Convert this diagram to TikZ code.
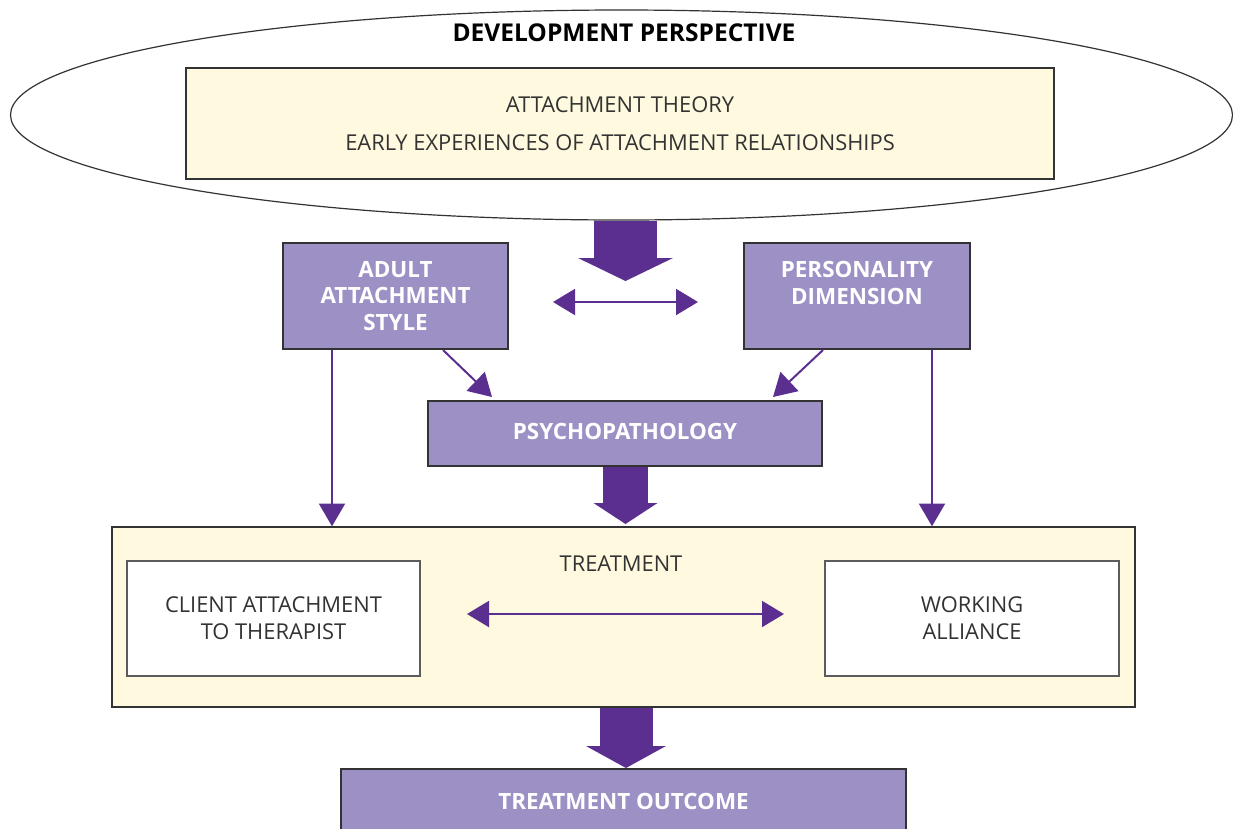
\documentclass[tikz,border=0pt]{standalone}
\usepackage{fontspec}
\setmainfont{Open Sans}
\usetikzlibrary{arrows.meta,shapes.geometric}
\definecolor{lav}{HTML}{9D90C5}
\definecolor{arrc}{HTML}{5B2F8F}
\definecolor{cream}{HTML}{FFFADF}
\definecolor{bord}{HTML}{333333}
\tikzset{
  purplebox/.style={draw=bord,line width=1.5pt,fill=lav,text=white,inner sep=0pt,align=center,
     font=\fontsize{16.8pt}{20pt}\selectfont\bfseries},
  creambox/.style={draw=bord,line width=1.1pt,fill=cream,inner sep=0pt,align=center},
  whitebox/.style={draw=bord!80,line width=0.8pt,fill=white,inner sep=0pt,align=center,text=bord,
     font=\fontsize{16.4pt}{20pt}\selectfont},
  thinarrow/.style={draw=arrc,line width=1.5pt,-{Triangle[length=17pt,width=19.5pt]}},
  thindouble/.style={draw=arrc,line width=1.5pt,{Triangle[length=16.5pt,width=19.5pt]}-{Triangle[length=16.5pt,width=19.5pt]}},
  fatarrow/.style={draw=arrc,line cap=butt}
}
\begin{document}
\begin{tikzpicture}[x=0.75pt,y=-0.75pt]
\clip (0,0) rectangle (1233,829);
\fill[white] (0,0) rectangle (1233,829);
% ellipse
\node[ellipse,draw=bord,line width=0.9pt,minimum width=916.5pt,minimum height=157.5pt,inner sep=0pt] (dev) at (621.5,115) {};
\node[font=\fontsize{18.4pt}{20pt}\selectfont\bfseries,text=black] (devlabel) at (624,33) {DEVELOPMENT PERSPECTIVE};
\node[creambox,minimum width=651pt,minimum height=83.25pt,text=bord,
  font=\fontsize{16.4pt}{28.5pt}\selectfont] (att) at (620,123.5)
  {ATTACHMENT THEORY\\EARLY EXPERIENCES OF ATTACHMENT RELATIONSHIPS};
% second row
\node[purplebox,minimum width=168.75pt,minimum height=79.5pt] (adult) at (395.5,296) {ADULT\\ATTACHMENT\\STYLE};
\node[purplebox,minimum width=169.5pt,minimum height=79.5pt] (pers) at (857,296) {PERSONALITY\\DIMENSION\\\phantom{STYLE}};
\node[purplebox,minimum width=295.5pt,minimum height=48.75pt,text depth=3pt] (psych) at (625,433) {PSYCHOPATHOLOGY};
% treatment
\node[creambox,minimum width=767.25pt,minimum height=135pt] (treat) at (623.5,617) {};
\node[text=bord,font=\fontsize{16.4pt}{18pt}\selectfont] (treatlabel) at (621,564) {TREATMENT};
\node[whitebox,minimum width=219.75pt,minimum height=86.25pt] (client) at (273.5,618.5) {CLIENT ATTACHMENT\\TO THERAPIST};
\node[whitebox,minimum width=220.5pt,minimum height=86.25pt] (work) at (972,618.5) {WORKING\\ALLIANCE};
\node[purplebox,minimum width=423.75pt,minimum height=48pt] (outcome) at (623.5,801) {TREATMENT OUTCOME};
% coordinates
\coordinate (tipA) at (625.5,281);
\coordinate (dblL) at (553,302);
\coordinate (dblR) at (698,302);
\coordinate (tipB) at (625.5,524);
\coordinate (dbl2L) at (467,614);
\coordinate (dbl2R) at (784,614);
% fat arrows
\draw[fatarrow,line width=47.25pt,-{Triangle[length=17.25pt,width=71.25pt,line width=0pt]}] (dev.south -| tipA) -- (tipA);
\draw[fatarrow,line width=33.75pt,-{Triangle[length=15.75pt,width=48pt,line width=0pt]}] (psych.south -| tipB) -- (tipB);
\draw[fatarrow,line width=39.75pt,-{Triangle[length=16.5pt,width=60pt,line width=0pt]}] (treat.south -| 626,0) -- (outcome.north -| 626,0);
% thin arrows
\draw[thindouble] (dblL) -- (dblR);
\draw[thinarrow] (adult.south -| 443,0) -- (492,397);
\draw[thinarrow] (pers.south -| 823,0) -- (773,397);
\draw[thinarrow] (adult.south -| 332,0) -- (treat.north -| 332,0);
\draw[thinarrow] (pers.south -| 932,0) -- (treat.north -| 932,0);
\draw[thindouble] (dbl2L) -- (dbl2R);
\end{tikzpicture}
\end{document}
